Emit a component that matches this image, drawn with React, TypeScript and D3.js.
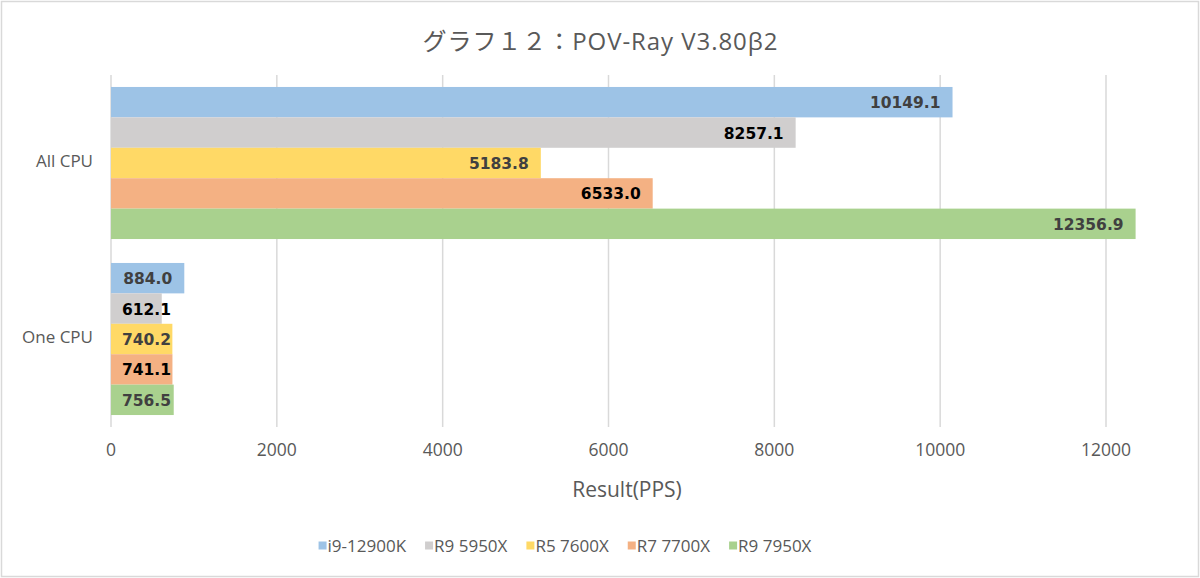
import React, { useRef, useEffect } from "react";
import * as d3 from "d3";

const categories = ["All CPU", "One CPU"];
const series = ["i9-12900K", "R9 5950X", "R5 7600X", "R7 7700X", "R9 7950X"];
const allCpu = [10149.1, 8257.1, 5183.8, 6533.0, 12356.9];
const oneCpu = [884.0, 612.1, 740.2, 741.1, 756.5];
const xTicks = [0, 2000, 4000, 6000, 8000, 10000, 12000];
const colors = ["#9DC3E6", "#D0CECE", "#FFD966", "#F4B183", "#A9D18E"];
const labelColors = ["#404040", "#000000", "#404040", "#000000", "#404040"];

const title = "グラフ１２：POV-Ray V3.80β2";
const xTitle = "Result(PPS)";

const W = 1200;
const H = 578;
const FONT = "'Open Sans', 'Noto Sans CJK JP', sans-serif";

export default function App() {
  const ref = useRef<SVGSVGElement>(null);

  useEffect(() => {
    document.body.style.margin = "0";
    const svg = d3.select(ref.current);
    svg.selectAll("*").remove();

    svg.append("rect")
      .attr("x", 1.5).attr("y", 1.5)
      .attr("width", W - 3).attr("height", H - 3)
      .attr("fill", "#fff")
      .attr("stroke", "#d9d9d9")
      .attr("stroke-width", 1.5);

    const t = svg.append("text")
      .attr("x", 600).attr("y", 40)
      .attr("text-anchor", "middle")
      .attr("dominant-baseline", "central")
      .style("font-family", FONT)
      .style("font-size", "24px")
      .attr("fill", "#595959")
      .text(title);
    // stretch title to the reference width
    const tw = (t.node() as SVGTextElement).getComputedTextLength();
    t.attr("textLength", 355).attr("lengthAdjust", "spacing");
    if (tw > 355) t.attr("textLength", null);

    const x = d3.scaleLinear().domain([0, 12000]).range([111, 1106]);
    const y = d3.scaleBand().domain(categories).range([75, 427])
      .paddingInner(0.136).paddingOuter(0.068);
    const ys = d3.scaleBand().domain(series).range([0, y.bandwidth()]);

    // gridlines
    svg.append("g").selectAll("line")
      .data(xTicks)
      .enter()
      .append("line")
      .attr("x1", d => x(d)).attr("x2", d => x(d))
      .attr("y1", 75).attr("y2", 427)
      .attr("stroke", "#d9d9d9")
      .attr("stroke-width", 1.5);

    svg.append("g").selectAll("text")
      .data(xTicks)
      .enter()
      .append("text")
      .attr("x", d => x(d)).attr("y", 449)
      .attr("text-anchor", "middle")
      .attr("dominant-baseline", "central")
      .style("font-family", FONT)
      .style("font-size", "17.5px")
      .attr("fill", "#595959")
      .text(d => String(d));

    const rows = [allCpu, oneCpu];
    const flat = categories.flatMap((c, ci) =>
      series.map((s, si) => ({ cat: c, s, si, v: rows[ci][si] })));

    const bars = svg.append("g");
    bars.selectAll("rect")
      .data(flat)
      .enter()
      .append("rect")
      .attr("x", x(0))
      .attr("y", d => (y(d.cat) as number) + (ys(d.s) as number))
      .attr("width", d => x(d.v) - x(0))
      .attr("height", ys.bandwidth())
      .attr("fill", d => colors[d.si]);

    const labels = svg.append("g");
    labels.selectAll("text")
      .data(flat)
      .enter()
      .append("text")
      .attr("y", d => (y(d.cat) as number) + (ys(d.s) as number) + ys.bandwidth() / 2 + 1)
      .attr("text-anchor", "end")
      .attr("dominant-baseline", "central")
      .style("font-family", "'DejaVu Sans', Verdana, sans-serif")
      .style("font-weight", "bold")
      .style("font-size", "15.5px")
      .attr("fill", d => labelColors[d.si])
      .text(d => d.v.toFixed(1))
      .attr("x", function (d) {
        const w = (this as SVGTextElement).getComputedTextLength();
        return Math.max(x(d.v) - 12, x(0) + 11 + w);
      });

    svg.append("g").selectAll("text")
      .data(categories)
      .enter()
      .append("text")
      .attr("x", 93)
      .attr("y", d => (y(d) as number) + y.bandwidth() / 2 - 3)
      .attr("text-anchor", "end")
      .attr("dominant-baseline", "central")
      .style("font-family", FONT)
      .style("font-size", "17px")
      .attr("fill", "#595959")
      .text(d => d);

    svg.append("text")
      .attr("x", 627).attr("y", 489)
      .attr("text-anchor", "middle")
      .attr("dominant-baseline", "central")
      .style("font-family", FONT)
      .style("font-size", "21px")
      .attr("fill", "#595959")
      .text(xTitle);

    // legend
    const legend = svg.append("g");
    const items = legend.selectAll("g")
      .data(series)
      .enter()
      .append("g");
    items.append("rect")
      .attr("width", 8).attr("height", 8)
      .attr("y", 541.5)
      .attr("fill", (d, i) => colors[i]);
    items.append("text")
      .attr("x", 9).attr("y", 545.5)
      .attr("dominant-baseline", "central")
      .style("font-family", FONT)
      .style("font-size", "17px")
      .attr("fill", "#595959")
      .text(d => d);
    const widths: number[] = [];
    items.each(function () {
      const tt = d3.select(this).select("text").node() as SVGTextElement;
      widths.push(9 + tt.getComputedTextLength());
    });
    const gap = 19;
    const total = d3.sum(widths) + gap * (widths.length - 1);
    let cx = 565 - total / 2;
    items.attr("transform", (d, i) => {
      const tx = cx;
      cx += widths[i] + gap;
      return `translate(${tx},0)`;
    });
  }, []);

  return <svg ref={ref} width={W} height={H} style={{ display: "block" }}></svg>;
}
